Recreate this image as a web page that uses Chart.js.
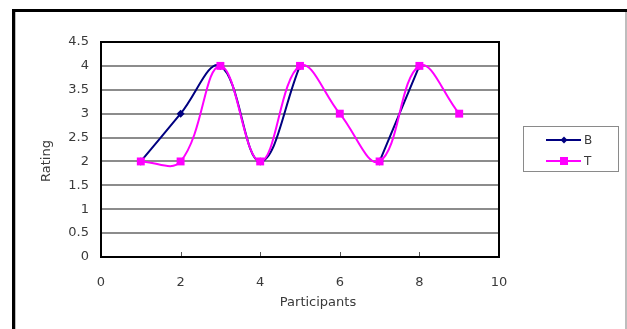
<!DOCTYPE html>
<html>
<head>
<meta charset="utf-8">
<script src="https://cdn.jsdelivr.net/npm/chart.js@4/dist/chart.umd.min.js"></script>
<style>
  html, body { margin: 0; padding: 0; background: #fff; }
  #wrap { width: 627px; height: 329px; position: relative; }
</style>
</head>
<body>
<div id="wrap"><canvas id="c" width="627" height="329"></canvas></div>
<script>
// ---- data ----
const participants = [1, 2, 3, 4, 5, 6, 7, 8, 9];
const seriesB = [2, 3, 4, 2, 4, null, 2, 4, null];
const seriesT = [2, 2, 4, 2, 4, 3, 2, 4, 3];
const seriesNames = ['B', 'T'];
const xTickValues = [0, 2, 4, 6, 8, 10];
const yTickValues = [0, 0.5, 1, 1.5, 2, 2.5, 3, 3.5, 4, 4.5];
const xTitle = 'Participants';
const yTitle = 'Rating';

const FONT = '"DejaVu Sans", sans-serif';
const TEXT = '#3a3a3a';
const NAVY = '#000080';
const MAGENTA = '#FF00FF';

function toPoints(vals) {
  return participants.map((p, i) => ({ x: p, y: vals[i] }));
}

const framePlugin = {
  id: 'frame',
  beforeDraw(chart) {
    const ctx = chart.ctx;
    ctx.save();
    ctx.fillStyle = '#fff';
    ctx.fillRect(0, 0, chart.width, chart.height);
    // outer chart frame
    ctx.fillStyle = '#000';
    ctx.fillRect(12, 9, 615, 3);
    ctx.fillRect(12, 9, 3, 320);
    ctx.fillStyle = '#bdbdbd';
    ctx.fillRect(15, 12, 1, 317);
    ctx.fillRect(625, 12, 2, 317);
    ctx.restore();
  },
  beforeDatasetsDraw(chart) {
    const ctx = chart.ctx;
    const a = chart.chartArea;
    const xs = chart.scales.x;
    ctx.save();
    // inner tick marks on x axis
    ctx.strokeStyle = '#555';
    ctx.lineWidth = 1;
    xTickValues.forEach(v => {
      if (v === 0 || v === 10) return;
      const px = Math.round(xs.getPixelForValue(v)) + 0.5;
      ctx.beginPath();
      ctx.moveTo(px, a.bottom);
      ctx.lineTo(px, a.bottom - 5);
      ctx.stroke();
    });
    // plot border
    ctx.strokeStyle = '#000';
    ctx.lineWidth = 2;
    ctx.strokeRect(a.left, a.top, a.right - a.left, a.bottom - a.top);
    ctx.restore();
  },
  afterDraw(chart) {
    const ctx = chart.ctx;
    ctx.save();
    ctx.fillStyle = TEXT;
    ctx.font = '13px ' + FONT;
    ctx.textAlign = 'center';
    ctx.textBaseline = 'middle';
    // axis titles
    ctx.fillText(xTitle, 318, 303);
    ctx.save();
    ctx.translate(47, 161);
    ctx.rotate(-Math.PI / 2);
    ctx.fillText(yTitle, 0, 0);
    ctx.restore();
    // legend box
    ctx.strokeStyle = '#8a8a8a';
    ctx.lineWidth = 1;
    ctx.strokeRect(523.5, 126.5, 95, 45);
    const ds = chart.data.datasets;
    const rows = [{ d: ds[1], y: 140 }, { d: ds[0], y: 161 }];
    rows.forEach(r => {
      ctx.strokeStyle = r.d.borderColor;
      ctx.lineWidth = 2;
      ctx.beginPath();
      ctx.moveTo(546, r.y);
      ctx.lineTo(581, r.y);
      ctx.stroke();
      ctx.fillStyle = r.d.backgroundColor;
      if (r.d.pointStyle === 'rect') {
        ctx.fillRect(560, r.y - 4, 8, 8);
      } else {
        ctx.beginPath();
        ctx.moveTo(564, r.y - 3.5);
        ctx.lineTo(567.5, r.y);
        ctx.lineTo(564, r.y + 3.5);
        ctx.lineTo(560.5, r.y);
        ctx.closePath();
        ctx.fill();
      }
      ctx.fillStyle = TEXT;
      ctx.font = '12px ' + FONT;
      ctx.textAlign = 'left';
      ctx.fillText(r.d.label, 584, r.y + 1);
    });
    ctx.restore();
  }
};

new Chart(document.getElementById('c'), {
  type: 'line',
  data: {
    datasets: [
      {
        label: seriesNames[1],
        data: toPoints(seriesT),
        borderColor: MAGENTA,
        backgroundColor: MAGENTA,
        borderWidth: 2,
        pointStyle: 'rect',
        pointRadius: 5.6,
        pointBorderWidth: 0,
        tension: 0.4,
        order: 0,
        spanGaps: false
      },
      {
        label: seriesNames[0],
        data: toPoints(seriesB),
        borderColor: NAVY,
        backgroundColor: NAVY,
        borderWidth: 2,
        pointStyle: 'rectRot',
        pointRadius: 4,
        pointBorderWidth: 0,
        tension: 0.4,
        order: 1,
        spanGaps: false
      }
    ]
  },
  options: {
    responsive: false,
    animation: false,
    devicePixelRatio: 1,
    layout: { padding: { left: 14, top: 42, right: 128, bottom: 0 } },
    plugins: {
      legend: { display: false },
      tooltip: { enabled: false }
    },
    scales: {
      x: {
        type: 'linear',
        min: 0,
        max: 10,
        afterBuildTicks(scale) { scale.ticks = xTickValues.map(v => ({ value: v })); },
        afterFit(scale) { scale.height = 72; },
        grid: { display: false, drawTicks: false },
        border: { display: false },
        ticks: { padding: 18, color: TEXT, font: { family: FONT, size: 13 }, callback: v => String(v) }
      },
      y: {
        min: 0,
        max: 4.5,
        afterBuildTicks(scale) { scale.ticks = yTickValues.map(v => ({ value: v })); },
        afterFit(scale) { scale.width = 87; },
        grid: { color: '#8c8c8c', lineWidth: 2, drawTicks: false },
        border: { display: false },
        ticks: { padding: 12, color: TEXT, font: { family: FONT, size: 13 }, callback: v => String(v) }
      }
    }
  },
  plugins: [framePlugin]
});
</script>
</body>
</html>
